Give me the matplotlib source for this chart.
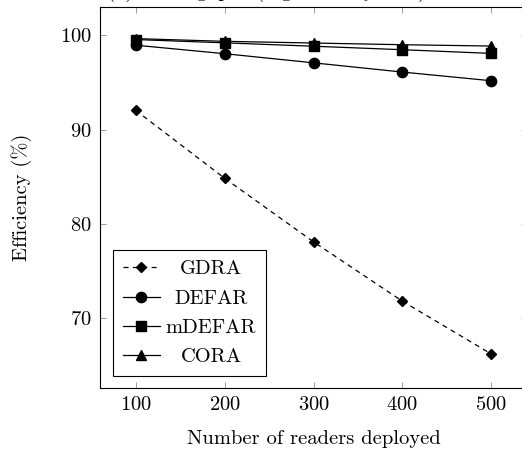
import matplotlib
matplotlib.use("Agg")
import matplotlib.pyplot as plt

plt.rcParams['font.family'] = 'serif'
plt.rcParams['font.serif'] = ['cmr10']
plt.rcParams['mathtext.fontset'] = 'cm'
plt.rcParams['axes.formatter.use_mathtext'] = True
plt.rcParams['font.size'] = 14.8

readers = [100, 200, 300, 400, 500]
gdra = [92.05, 84.85, 78.1, 71.8, 66.2]
defar = [98.95, 98.05, 97.08, 96.1, 95.18]
mdefar = [99.55, 99.2, 98.84, 98.47, 98.08]
cora = [99.65, 99.36, 99.18, 99.0, 98.86]
series_names = ["GDRA", "DEFAR", "mDEFAR", "CORA"]
xticks = [100, 200, 300, 400, 500]
yticks = [70, 80, 90, 100]

W, H = 522, 459
fig = plt.figure(figsize=(W / 100, H / 100), dpi=100)
ax = fig.add_axes([100 / W, (H - 388) / H, (527 - 100) / W, (388 - 7) / H])

ax.plot(readers, gdra, color='black', lw=0.9, ls=(0, (4, 3.5)), marker='D', ms=4.6,
        label=series_names[0])
ax.plot(readers, defar, color='black', lw=0.9, marker='o', ms=7.4, label=series_names[1])
ax.plot(readers, mdefar, color='black', lw=0.9, marker='s', ms=6.8, label=series_names[2])
ax.plot(readers, cora, color='black', lw=0.9, marker='^', ms=7.4, label=series_names[3])

ax.set_xlim(60, 540)
ax.set_ylim(62.6, 103.0)
ax.set_xticks(xticks)
ax.set_yticks(yticks)
ax.tick_params(direction='in', length=4.5, width=0.6, color='0.55', top=True, right=True, pad=6)
for s in ax.spines.values():
    s.set_linewidth(0.8)

ax.set_xlabel("Number of readers deployed", labelpad=11)
ax.set_ylabel("Efficiency (%)", labelpad=20)

leg = ax.legend(loc='lower left', bbox_to_anchor=(13 / 427, 12 / 381), borderaxespad=0,
                fancybox=False, edgecolor='black', framealpha=1, handlelength=1.8,
                handletextpad=0.3, borderpad=0.47, labelspacing=0.53)
leg.get_frame().set_linewidth(0.8)

# centre legend labels like pgfplots
fig.canvas.draw()
r = fig.canvas.get_renderer()
texts = leg.get_texts()
widths = [t.get_window_extent(r).width for t in texts]
mw = max(widths)
for t, w in zip(texts, widths):
    t.set_position(((mw - w) / 2, 0))

fig.text(267 / W, 1 + 3 / H, "(a) Throughput (high-density case)", ha='center', va='baseline')

fig.savefig("out.png", dpi=100)
